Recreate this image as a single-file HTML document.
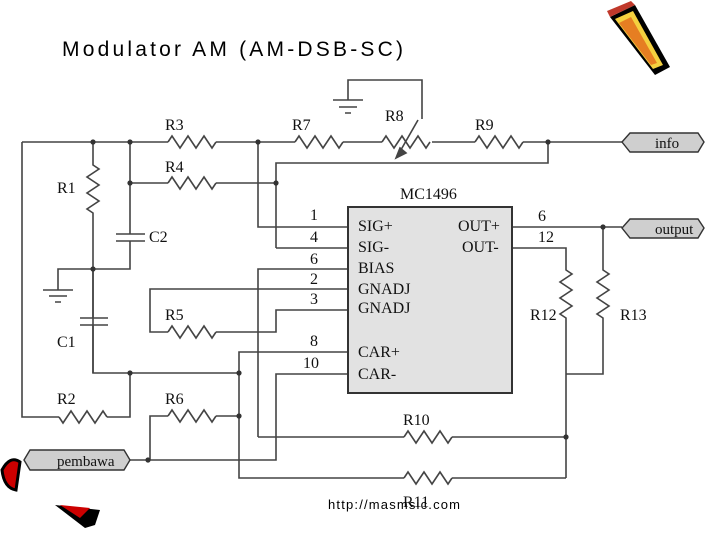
<!DOCTYPE html>
<html><head><meta charset="utf-8"><style>
html,body{margin:0;padding:0;background:#fff}
svg{display:block}
text{font-family:"Liberation Serif",serif}
</style></head><body>
<svg width="720" height="540" viewBox="0 0 720 540" xmlns="http://www.w3.org/2000/svg">
<text x="62" y="56" style="font-family:'Liberation Sans',sans-serif" font-size="21" fill="#000" textLength="341" lengthAdjust="spacing">Modulator AM (AM-DSB-SC)</text>

<!-- pencil icon top right -->
<g transform="translate(605,5)">
<polygon points="5,12 30,0 65,62 50,70" fill="#000"/>
<polygon points="10,14 28,6 58,60 48,64" fill="#f4d03f"/>
<polygon points="14,18 26,12 52,58 46,60" fill="#e67e22"/>
<polygon points="5,12 30,0 26,-4 2,6" fill="#c0392b"/>
</g>
<!-- bottom-left decoration -->
<path d="M2,470 Q10,455 20,462 L16,490 Q4,488 2,470Z" fill="#c00" stroke="#000" stroke-width="3"/>
<polygon points="55,505 100,510 95,525 85,528" fill="#000"/>
<polygon points="60,505 90,508 80,518" fill="#c00"/>

<g fill="none" stroke="#444" stroke-width="1.6">
<path d="M22,142 H168 M216,142 H295 M343,142 H382 M432,142 H475 M523,142 H622"/>
<path d="M168,142 l4,-6 l8,12 l8,-12 l8,12 l8,-12 l8,12 l4,-6"/>
<path d="M295,142 l4,-6 l8,12 l8,-12 l8,12 l8,-12 l8,12 l4,-6"/>
<path d="M382,142 l4,-6 l8,12 l8,-12 l8,12 l8,-12 l8,12 l4,-6"/>
<path d="M475,142 l4,-6 l8,12 l8,-12 l8,12 l8,-12 l8,12 l4,-6"/>
<path d="M398,155 L418,120"/>
<polygon points="396,158 400,148 406,153" fill="#444"/>
<path d="M348,100 V80 H422 V119"/>
<path d="M333,100 H363 M339,107 H357 M345,113 H351"/>
<path d="M22,142 V417 H59 M107,417 H130 V373"/>
<path d="M59,417 l4,6 l8,-12 l8,12 l8,-12 l8,12 l8,-12 l4,6"/>
<path d="M93,142 V165 l6,4 l-12,8 l12,8 l-12,8 l12,8 l-12,8 l6,4 V373 H239"/>
<path d="M130,142 V234 M116,234 H145 M116,241 H145 M130,241 V269 H58 V290"/>
<path d="M43,290 H73 M49,296 H67 M55,302 H61"/>
<path d="M93,269 V318 M80,318 H108 M80,325 H108 M93,325 V373"/>
<path d="M130,183 H168 M216,183 H276"/>
<path d="M168,183 l4,-6 l8,12 l8,-12 l8,12 l8,-12 l8,12 l4,-6"/>
<path d="M276,248 V163 H548 V142"/>
<path d="M258,142 V227 H348"/>
<path d="M276,248 H348"/>
<path d="M258,437 V269 H348"/>
<path d="M348,289 H150 V332 H168 M216,332 H276 V310 H348"/>
<path d="M168,332 l4,-6 l8,12 l8,-12 l8,12 l8,-12 l8,12 l4,-6"/>
<path d="M348,352 H239 V478 H404 M452,478 H566"/>
<path d="M404,478 l4,-6 l8,12 l8,-12 l8,12 l8,-12 l8,12 l4,-6"/>
<path d="M348,374 H276 V460 H130"/>
<path d="M150,460 V416 H168 M216,416 H239"/>
<path d="M168,416 l4,-6 l8,12 l8,-12 l8,12 l8,-12 l8,12 l4,-6"/>
<path d="M258,437 H404 M452,437 H566"/>
<path d="M404,437 l4,-6 l8,12 l8,-12 l8,12 l8,-12 l8,12 l4,-6"/>
<path d="M512,227 H622"/>
<path d="M512,248 H566 V270 l6,4 l-12,8 l12,8 l-12,8 l12,8 l-12,8 l6,4 V478"/>
<path d="M603,227 V270 l6,4 l-12,8 l12,8 l-12,8 l12,8 l-12,8 l6,4 V374 H566"/>
</g>

<g fill="#333">
<circle cx="93" cy="142" r="2.6"/><circle cx="130" cy="142" r="2.6"/><circle cx="258" cy="142" r="2.6"/>
<circle cx="130" cy="183" r="2.6"/><circle cx="276" cy="183" r="2.6"/><circle cx="548" cy="142" r="2.6"/>
<circle cx="93" cy="269" r="2.6"/><circle cx="130" cy="373" r="2.6"/><circle cx="239" cy="373" r="2.6"/>
<circle cx="239" cy="416" r="2.6"/><circle cx="148" cy="460" r="2.6"/><circle cx="566" cy="437" r="2.6"/>
<circle cx="603" cy="227" r="2.6"/>
</g>

<rect x="348" y="207" width="164" height="186" fill="#e2e2e2" stroke="#333" stroke-width="2"/>
<g font-size="16" fill="#111">
<text x="400" y="199">MC1496</text>
<text x="358" y="231">SIG+</text><text x="358" y="252">SIG-</text><text x="358" y="273">BIAS</text>
<text x="358" y="294">GNADJ</text><text x="358" y="313">GNADJ</text>
<text x="358" y="357">CAR+</text><text x="358" y="379">CAR-</text>
<text x="458" y="231">OUT+</text><text x="462" y="252">OUT-</text>
<text x="310" y="220">1</text><text x="310" y="242">4</text><text x="310" y="264">6</text>
<text x="310" y="284">2</text><text x="310" y="304">3</text>
<text x="310" y="346">8</text><text x="303" y="368">10</text>
<text x="538" y="221">6</text><text x="538" y="242">12</text>
<text x="165" y="130">R3</text><text x="292" y="130">R7</text><text x="385" y="121">R8</text><text x="475" y="130">R9</text>
<text x="165" y="172">R4</text><text x="57" y="193">R1</text><text x="149" y="242">C2</text>
<text x="57" y="347">C1</text><text x="165" y="320">R5</text><text x="57" y="404">R2</text>
<text x="165" y="404">R6</text><text x="403" y="425">R10</text><text x="403" y="507">R11</text>
<text x="530" y="320">R12</text><text x="620" y="320">R13</text>
</g>

<g stroke="#333" stroke-width="1.4" fill="#cfcfcf">
<polygon points="622,142 630,133 698,133 704,142 698,152 630,152"/>
<polygon points="622,228 630,219 698,219 704,228 698,238 630,238"/>
<polygon points="24,460 30,450 124,450 130,460 124,470 30,470"/>
</g>
<g font-size="15" fill="#111">
<text x="655" y="148">info</text>
<text x="655" y="234">output</text>
<text x="57" y="466">pembawa</text>
</g>
<text x="328" y="509" style="font-family:'Liberation Sans',sans-serif" font-size="13" fill="#000" textLength="132" lengthAdjust="spacing">http://masmsic.com</text>
</svg>
</body></html>
